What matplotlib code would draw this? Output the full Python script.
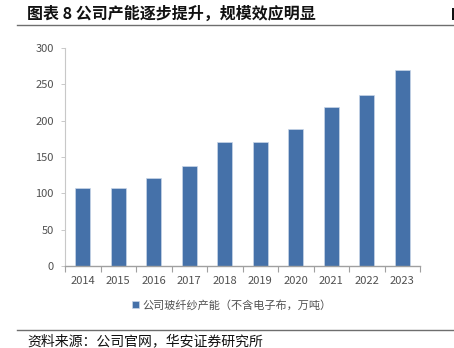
import matplotlib
matplotlib.use("Agg")
import matplotlib.pyplot as plt
from matplotlib.lines import Line2D
from matplotlib.patches import Rectangle

plt.rcParams['font.family'] = ['Noto Sans CJK SC', 'DejaVu Sans']

years = ['2014', '2015', '2016', '2017', '2018', '2019', '2020', '2021', '2022', '2023']
capacity = [108, 108, 121, 137, 170, 171, 189, 219, 235, 270]
yticks = [0, 50, 100, 150, 200, 250, 300]
series_name = '公司玻纤纱产能（不含电子布，万吨）'
title = '图表 8 公司产能逐步提升，规模效应明显'
source = '资料来源：公司官网，华安证券研究所'

W, H = 454, 348
fig = plt.figure(figsize=(W / 100, H / 100), dpi=100)
ax = fig.add_axes([65 / W, 1 - 266 / H, 355 / W, 218 / H])

x = list(range(len(years)))
bars = ax.bar(x, capacity, width=0.42, color='#4571A9', edgecolor='#C9D6E8', linewidth=0.5)

ax.set_xlim(-0.5, len(years) - 0.5)
ax.set_ylim(0, 300)
ax.set_yticks(yticks)
ax.set_yticklabels([str(v) for v in yticks])
ax.set_xticks(x)
ax.set_xticklabels(years)
ax.set_xticks([i - 0.5 for i in range(len(years) + 1)], minor=True)
ax.tick_params(axis='x', which='major', length=0, pad=7, labelsize=8, colors='#505050')
ax.tick_params(axis='x', which='minor', length=4, color='#A0A0A0', width=0.8)
ax.tick_params(axis='y', length=3, color='#C0C0C0', width=0.6, labelsize=8, colors='#505050', pad=5)
for s in ['top', 'right']:
    ax.spines[s].set_visible(False)
ax.spines['left'].set_color('#C8C8C8')
ax.spines['left'].set_linewidth(0.8)
ax.spines['bottom'].set_color('#A0A0A0')
ax.spines['bottom'].set_linewidth(1.0)

# Legend
leg = fig.legend([bars[0]], [series_name], loc='center', bbox_to_anchor=(232 / W, 1 - 305 / H),
                 frameon=False, fontsize=8, handlelength=0.6, handleheight=0.6, handletextpad=0.3,
                 labelcolor='#505050')

# Title and rules
fig.text(27 / W, 1 - 14 / H, title, fontsize=11.5, fontweight='bold', va='center', ha='left', color='#111111')
fig.add_artist(Rectangle((451.5 / W, 1 - 20 / H), 2.5 / W, 12 / H, transform=fig.transFigure,
                         facecolor='#111111', edgecolor='none'))
fig.add_artist(Line2D([17 / W, 1.0], [1 - 25 / H, 1 - 25 / H], color='#6E6E6E', linewidth=1.0))
fig.add_artist(Line2D([17 / W, 1.0], [1 - 330 / H, 1 - 330 / H], color='#6E6E6E', linewidth=1.0))
fig.text(27 / W, 1 - 341 / H, source, fontsize=10, va='center', ha='left', color='#111111')

fig.savefig('out.png', dpi=100)
